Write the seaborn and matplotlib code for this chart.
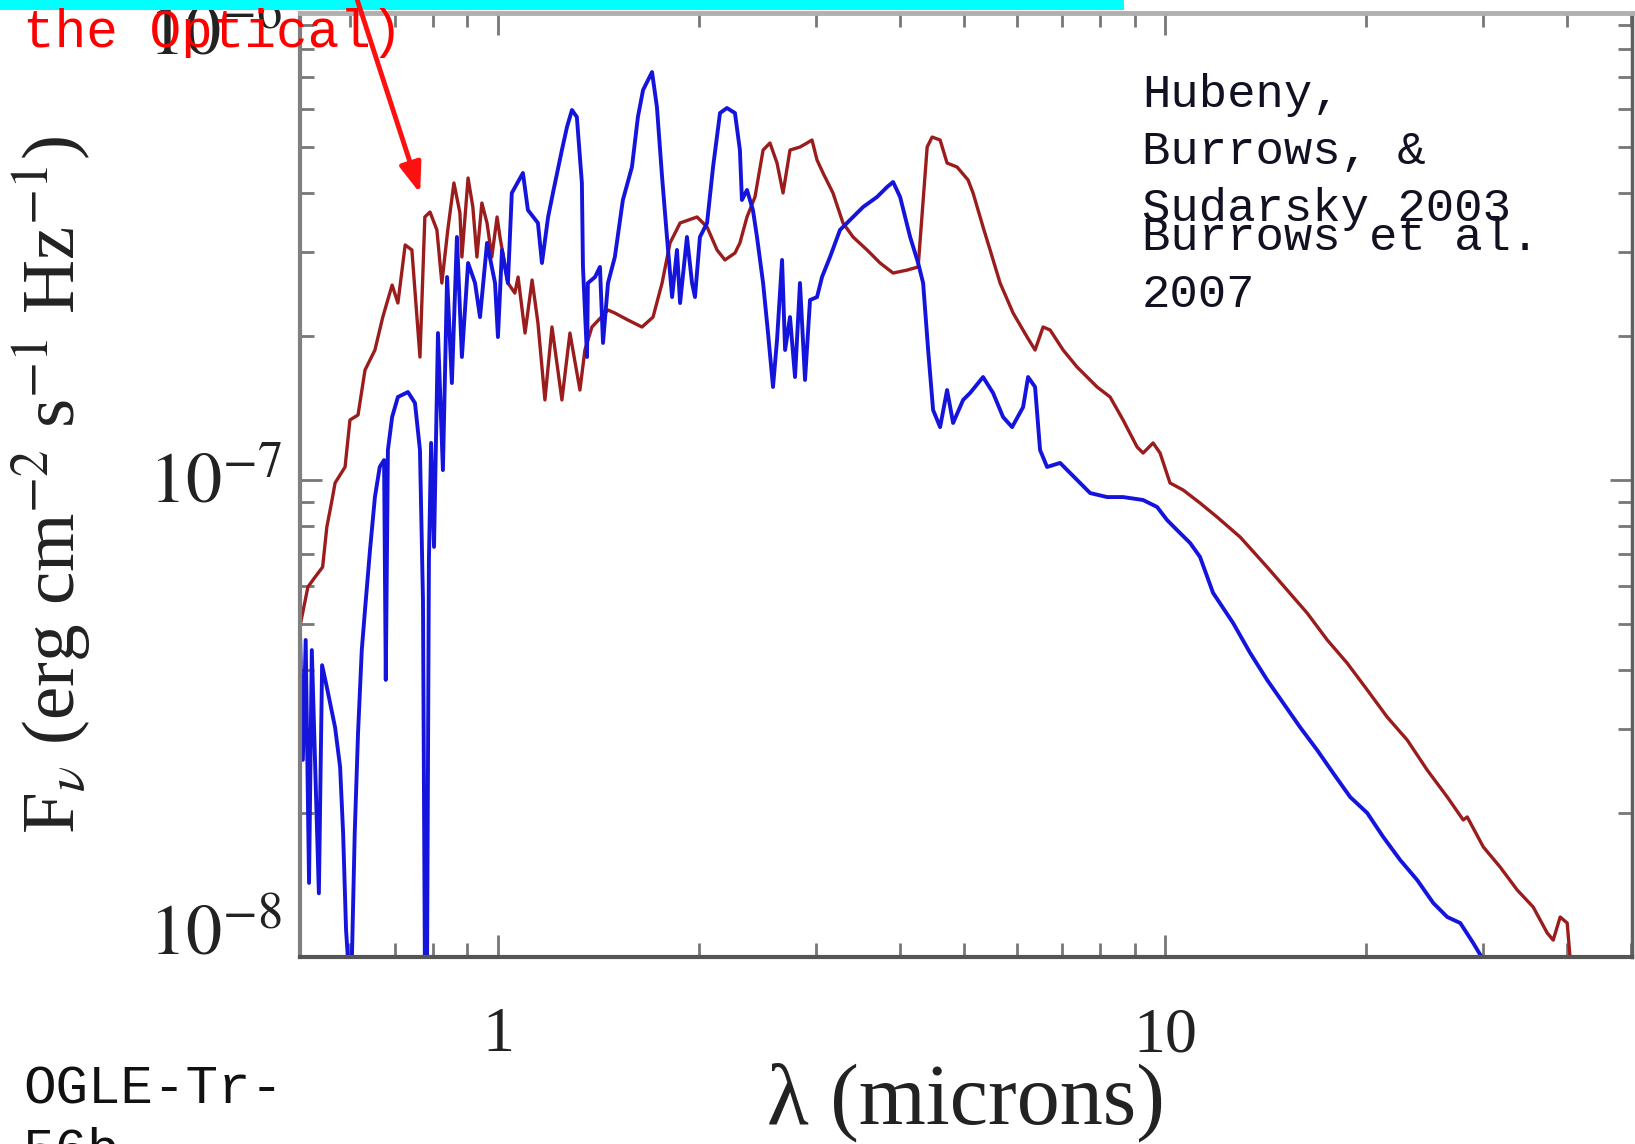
import numpy as np
import pandas as pd
import matplotlib
matplotlib.use("Agg")
import matplotlib.pyplot as plt
import seaborn as sns
from matplotlib.patches import Rectangle, FancyArrowPatch
from matplotlib.ticker import NullFormatter, FixedLocator

# ---------------- data (wavelength in microns, F_nu in units of 1e-7 erg/cm^2/s/Hz) -------------
red_wavelength = [0.505, 0.519, 0.532, 0.546, 0.554, 0.564, 0.570, 0.590, 0.600, 0.617, 0.632, 0.654,
                  0.672, 0.694, 0.708, 0.726, 0.743, 0.764, 0.777, 0.791, 0.810, 0.824, 0.841, 0.859,
                  0.877, 0.883, 0.902, 0.917, 0.930, 0.946, 0.963, 0.979, 0.997, 1.007, 1.035, 1.060,
                  1.072, 1.098, 1.125, 1.148, 1.176, 1.205, 1.247, 1.282, 1.327, 1.350, 1.383, 1.462,
                  1.497, 1.566, 1.644, 1.708, 1.762, 1.811, 1.875, 1.988, 2.058, 2.130, 2.189, 2.266,
                  2.305, 2.362, 2.428, 2.497, 2.557, 2.620, 2.675, 2.740, 2.836, 2.906, 2.956, 3.008,
                  3.071, 3.178, 3.290, 3.406, 3.575, 3.739, 3.911, 4.105, 4.264, 4.338, 4.399, 4.475,
                  4.600, 4.712, 4.877, 5.066, 5.154, 5.335, 5.466, 5.658, 5.918, 6.211, 6.384, 6.563,
                  6.724, 7.033, 7.381, 7.908, 8.271, 8.650, 9.078, 9.268, 9.594, 9.828, 10.17, 10.64,
                  11.28, 11.97, 12.96, 14.22, 15.24, 16.33, 17.50, 18.75, 20.09, 21.52, 23.06, 24.71,
                  26.48, 27.98, 28.37, 29.99, 31.78, 33.71, 35.62, 37.39, 38.17, 39.10, 40.06, 40.48]
red_flux = [0.494, 0.597, 0.626, 0.657, 0.797, 0.908, 0.986, 1.065, 1.336, 1.369, 1.700, 1.873,
            2.196, 2.563, 2.350, 3.110, 3.036, 1.811, 3.560, 3.646, 3.344, 2.588, 3.344, 4.195,
            3.629, 2.935, 4.297, 3.735, 2.935, 3.808, 3.458, 2.935, 3.560, 3.232, 2.588, 2.466,
            2.664, 2.033, 2.626, 2.134, 1.472, 2.093, 1.472, 2.033, 1.544, 1.873, 2.093, 2.272,
            2.239, 2.165, 2.093, 2.196, 2.588, 3.140, 3.458, 3.560, 3.392, 3.036, 2.893, 2.992,
            3.140, 3.560, 3.921, 4.918, 5.088, 4.619, 3.997, 4.918, 4.990, 5.088, 5.162, 4.687,
            4.402, 3.997, 3.458, 3.232, 3.036, 2.851, 2.716, 2.755, 2.797, 3.864, 4.990, 5.237,
            5.162, 4.619, 4.531, 4.256, 3.997, 3.392, 3.036, 2.588, 2.239, 1.994, 1.873, 2.093,
            2.063, 1.873, 1.725, 1.567, 1.493, 1.336, 1.173, 1.139, 1.196, 1.139, 0.986, 0.953,
            0.895, 0.836, 0.759, 0.657, 0.588, 0.526, 0.462, 0.413, 0.363, 0.3185, 0.2851, 0.2466,
            0.2165, 0.1938, 0.1966, 0.1701, 0.1544, 0.1382, 0.1273, 0.1123, 0.1085, 0.1213, 0.1178, 0.0986]

blue_wavelength = [0.505, 0.510, 0.515, 0.521, 0.526, 0.539, 0.545, 0.554, 0.570, 0.580, 0.586, 0.592,
                   0.596, 0.604, 0.610, 0.617, 0.625, 0.632, 0.643, 0.654, 0.665, 0.675, 0.679, 0.684,
                   0.694, 0.708, 0.733, 0.751, 0.764, 0.772, 0.777, 0.783, 0.788, 0.794, 0.802, 0.813,
                   0.827, 0.839, 0.853, 0.868, 0.883, 0.902, 0.924, 0.940, 0.963, 0.990, 1.000, 1.014,
                   1.035, 1.049, 1.090, 1.109, 1.148, 1.164, 1.189, 1.209, 1.247, 1.269, 1.291, 1.313,
                   1.336, 1.341, 1.360, 1.364, 1.398, 1.422, 1.437, 1.462, 1.497, 1.539, 1.588, 1.621,
                   1.650, 1.702, 1.731, 1.762, 1.792, 1.824, 1.855, 1.875, 1.920, 1.954, 1.974, 2.008,
                   2.058, 2.101, 2.152, 2.204, 2.266, 2.305, 2.321, 2.362, 2.411, 2.445, 2.497, 2.540,
                   2.584, 2.620, 2.666, 2.694, 2.740, 2.788, 2.836, 2.886, 2.936, 3.008, 3.060, 3.146,
                   3.256, 3.406, 3.526, 3.700, 3.831, 3.911, 4.007, 4.148, 4.264, 4.338, 4.414, 4.490,
                   4.600, 4.712, 4.811, 4.980, 5.101, 5.335, 5.523, 5.717, 5.897, 6.126, 6.232, 6.384,
                   6.495, 6.654, 6.960, 7.381, 7.720, 8.185, 8.650, 9.268, 9.727, 10.07, 10.53, 10.90,
                   11.28, 11.80, 12.65, 13.41, 14.22, 15.03, 15.94, 16.90, 17.86, 18.94, 20.09, 21.23,
                   22.51, 23.87, 25.23, 26.48, 27.70, 28.96, 29.99]
blue_flux = [0.480, 0.259, 0.462, 0.143, 0.440, 0.136, 0.409, 0.368, 0.303, 0.250, 0.182, 0.114,
             0.0986, 0.0986, 0.182, 0.295, 0.440, 0.534, 0.713, 0.921, 1.065, 1.101, 0.381, 1.156,
             1.355, 1.493, 1.529, 1.450, 1.156, 0.560, 0.0986, 0.0986, 0.680, 1.196, 0.724, 2.033,
             1.049, 2.664, 1.597, 3.232, 1.811, 2.851, 2.588, 2.196, 3.140, 2.588, 1.994, 3.036,
             2.588, 3.997, 4.402, 3.681, 3.458, 2.851, 3.560, 3.997, 4.918, 5.495, 5.966, 5.768,
             4.195, 2.797, 1.811, 2.588, 2.664, 2.797, 1.938, 2.588, 2.935, 3.864, 4.531, 5.768,
             6.570, 7.166, 6.053, 4.318, 3.232, 2.419, 3.036, 2.350, 3.232, 2.588, 2.419, 3.232,
             3.458, 4.531, 5.880, 6.024, 5.880, 4.918, 3.864, 4.055, 3.681, 3.232, 2.588, 2.033,
             1.567, 1.966, 2.893, 1.873, 2.196, 1.644, 2.588, 1.621, 2.384, 2.419, 2.664, 2.935,
             3.344, 3.560, 3.735, 3.921, 4.115, 4.215, 3.921, 3.232, 2.851, 2.588, 1.873, 1.402,
             1.291, 1.544, 1.317, 1.472, 1.522, 1.644, 1.522, 1.355, 1.291, 1.422, 1.644, 1.567,
             1.156, 1.065, 1.086, 1.000, 0.939, 0.921, 0.921, 0.908, 0.878, 0.824, 0.774, 0.738,
             0.690, 0.580, 0.501, 0.434, 0.381, 0.341, 0.303, 0.2716, 0.2430, 0.2165, 0.2004, 0.1785,
             0.1597, 0.1450, 0.1298, 0.1213, 0.1178, 0.1070, 0.0986]

x_tick_values = [1, 10]
x_tick_labels = ["1", "10"]
y_tick_labels = ["$10^{-6}$", "$10^{-7}$", "$10^{-8}$"]

FLUX_UNIT = 1e-7

# ---------------- figure ----------------
sns.set_style("white")
plt.rcParams["mathtext.fontset"] = "stix"
plt.rcParams["font.family"] = ["Liberation Serif", "DejaVu Serif"]

W, H = 1635, 1144
fig = plt.figure(figsize=(W / 100, H / 100), dpi=100)
fig.patch.set_facecolor("white")
ax = fig.add_axes([300 / W, 1 - 957 / H, (1632 - 300) / W, (957 - 13) / H])

df_red = pd.DataFrame({"wavelength": red_wavelength,
                       "flux": np.array(red_flux) * FLUX_UNIT})
df_blue = pd.DataFrame({"wavelength": blue_wavelength,
                        "flux": np.array(blue_flux) * FLUX_UNIT})

sns.lineplot(data=df_red, x="wavelength", y="flux", ax=ax, color="#9a1c1c",
             linewidth=2.4, estimator=None, sort=False)
sns.lineplot(data=df_blue, x="wavelength", y="flux", ax=ax, color="#1414dc",
             linewidth=2.8, estimator=None, sort=False)

ax.set_xscale("log")
ax.set_yscale("log")
ax.set_xlim(0.505, 50.1)
ax.set_ylim(1e-8, 9.53e-7)

ax.xaxis.set_major_locator(FixedLocator(x_tick_values))
ax.set_xticklabels(x_tick_labels, fontsize=46, fontfamily="Liberation Serif", color="#222222")
ax.xaxis.set_minor_formatter(NullFormatter())
ax.yaxis.set_minor_formatter(NullFormatter())

ax.tick_params(which="both", direction="in", top=True, right=True, left=True, bottom=True,
               colors="#777777")
ax.tick_params(axis="x", which="major", length=16, width=2.0, pad=36, labelcolor="#222222")
ax.tick_params(axis="y", which="major", length=16, width=2.0, labelleft=False)
ax.tick_params(which="minor", length=10, width=2.0)

for side, col, lw in [("left", "#808080", 3.0), ("bottom", "#555555", 3.0),
                      ("top", "#b0b0b0", 3.5), ("right", "#606060", 2.5)]:
    ax.spines[side].set_visible(True)
    ax.spines[side].set_color(col)
    ax.spines[side].set_linewidth(lw)

ax.set_xlabel("λ (microns)", fontsize=62, fontfamily="Liberation Serif", color="#222222")
ax.xaxis.set_label_coords(0.5, -0.112)
ax.xaxis.label.set_va("top")
ax.set_ylabel(r"F$_\nu$ (erg cm$^{-2}$ s$^{-1}$ Hz$^{-1}$)", fontsize=54,
              fontfamily="Liberation Serif", color="#222222")
ax.yaxis.set_label_coords(-0.155, 0.50)

# y tick labels (placed as in the original)
for lab, base in zip(y_tick_labels, [55, 502, 954]):
    fig.text(282 / W, 1 - base / H, lab, fontsize=52, ha="right", va="baseline",
             color="#222222")

# ---------------- overlays ----------------
fig.patches.append(Rectangle((0, 1 - 10 / H), 1124 / W, 10 / H, transform=fig.transFigure,
                             facecolor="#00ffff", edgecolor="none", zorder=5))

arrow = FancyArrowPatch((356 / W, 1 + 4 / H), (421 / W, 1 - 196 / H), transform=fig.transFigure,
                        arrowstyle="-|>,head_length=0.9,head_width=0.33", mutation_scale=20,
                        color="#ff1010", linewidth=3.5, zorder=6)
fig.patches.append(arrow)

mono = ["Liberation Mono", "DejaVu Sans Mono"]
fig.text(23 / W, 1 - 47 / H, "the Optical)", fontsize=38, family=mono, color="#ff0000",
         ha="left", va="baseline", zorder=7)

for line, base in zip(["Hubeny,", "Burrows, &", "Sudarsky 2003"], [107, 164, 221]):
    fig.text(1142 / W, 1 - base / H, line, fontsize=34, family=mono, color="#111122",
             ha="left", va="baseline")
for line, base in zip(["Burrows et al.", "2007"], [250, 307]):
    fig.text(1142 / W, 1 - base / H, line, fontsize=34, family=mono, color="#111122",
             ha="left", va="baseline")

for line, base in zip(["OGLE-Tr-", "56b"], [1104, 1166]):
    fig.text(23 / W, 1 - base / H, line, fontsize=39, family=mono, color="#111111",
             ha="left", va="baseline")

fig.savefig("out.png", dpi=100)
